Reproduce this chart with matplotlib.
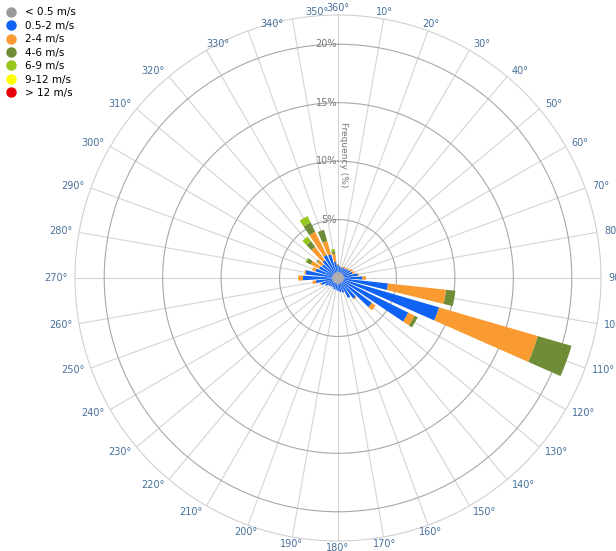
import numpy as np
import matplotlib.pyplot as plt
from matplotlib.lines import Line2D
from matplotlib.transforms import ScaledTranslation

# wind rose: frequency (%) by direction and speed class
directions = np.arange(0, 360, 10)
speed_bins = ['< 0.5 m/s', '0.5-2 m/s', '2-4 m/s', '4-6 m/s', '6-9 m/s', '9-12 m/s', '> 12 m/s']
colors = ['#9a9a9a', '#1062f2', '#f99b31', '#6f8d37', '#97c81d', '#ffff00', '#e8000b']

calm = [0.5] * 36
v05_2 = [0.6, 0.5, 0.4, 0.5, 0.5, 0.6, 0.7, 0.8, 1.2, 1.6, 3.8, 8.5,
         6.2, 3.1, 1.7, 1.4, 0.8, 0.7, 0.6, 0.5, 0.5, 0.4, 0.4, 0.5,
         0.7, 1.0, 1.4, 2.5, 2.3, 1.5, 1.3, 1.2, 1.4, 1.7, 1.6, 0.9]
v2_4 = [0.1, 0.0, 0.1, 0.1, 0.1, 0.1, 0.2, 0.2, 0.1, 0.3, 5.0, 8.8,
        0.6, 0.4, 0.1, 0.0, 0.0, 0.0, 0.0, 0.0, 0.0, 0.0, 0.0, 0.0,
        0.0, 0.1, 0.3, 0.4, 0.1, 0.3, 0.8, 0.5, 1.4, 2.2, 1.2, 0.7]
v4_6 = [0.0] * 36
v4_6[10], v4_6[11], v4_6[12] = 0.8, 3.0, 0.3
v4_6[30], v4_6[31], v4_6[32], v4_6[33], v4_6[34], v4_6[35] = 0.4, 0.1, 0.6, 0.9, 1.0, 0.2
v6_9 = [0.0] * 36
v6_9[30], v6_9[32], v6_9[33], v6_9[35] = 0.1, 0.5, 0.6, 0.2
v9_12 = [0.0] * 36
v12 = [0.0] * 36

series = [calm, v05_2, v2_4, v4_6, v6_9, v9_12, v12]
rticks = [5, 10, 15, 20]
rmax = 22.5

fig = plt.figure(figsize=(6.16, 5.51), dpi=100)
ax = fig.add_axes([75/616, 10/551, 526/616, 526/551], projection='polar')
ax.set_theta_zero_location('N')
ax.set_theta_direction(-1)

theta = np.deg2rad(directions)
width = np.deg2rad(7.6)
bottom = np.zeros(36)
for vals, c in zip(series, colors):
    vals = np.array(vals)
    ax.bar(theta, vals, width=width, bottom=bottom, color=c, edgecolor='none', zorder=3)
    bottom += vals

ax.set_ylim(0, rmax)
ax.set_rgrids(rticks, labels=[''] * len(rticks))
ax.set_thetagrids(directions, labels=[''] * len(directions))
ax.yaxis.grid(True, color='#a8a8a8', lw=0.8)
ax.xaxis.grid(True, color='#d4d4d4', lw=0.8)
ax.spines['polar'].set_color('#d0d0d0')
ax.spines['polar'].set_linewidth(0.8)
ax.set_axisbelow(True)

# direction labels: centred near N and S, left on the east side, right on the west side
for d in directions:
    lab = '360°' if d == 0 else f'{d}°'
    t = np.deg2rad(d)
    if 20 < d < 160:
        ha = 'left'
    elif 200 < d < 340:
        ha = 'right'
    else:
        ha = 'center'
    off = 7
    dx = off * np.sin(t)
    if 330 <= d <= 350:  # these sit further right in the original
        dx += 26
    ax.annotate(lab, xy=(t, rmax), xytext=(dx, off * np.cos(t)),
                textcoords='offset pixels', ha=ha, va='center', fontsize=7,
                color='#46709a', annotation_clip=False)

# radial labels
shift = ax.transData + ScaledTranslation(-1/100, 0, fig.dpi_scale_trans)
for r in rticks:
    ax.text(0, r, f'{r}%', ha='right', va='center', fontsize=7, color='#777777', transform=shift)
ax.text(np.deg2rad(2.6), 10.6, 'Frequency (%)', rotation=-90, ha='center', va='center',
        fontsize=6.5, color='#777777')

handles = [Line2D([], [], marker='o', ls='', color=c, markersize=6.5) for c in colors]
fig.legend(handles, speed_bins, loc='upper left', bbox_to_anchor=(0.0, 0.998), frameon=False,
           fontsize=7.5, handletextpad=0.8, labelspacing=0.33, borderaxespad=0.2,
           handlelength=1.0)

plt.savefig('out.png', dpi=100)
